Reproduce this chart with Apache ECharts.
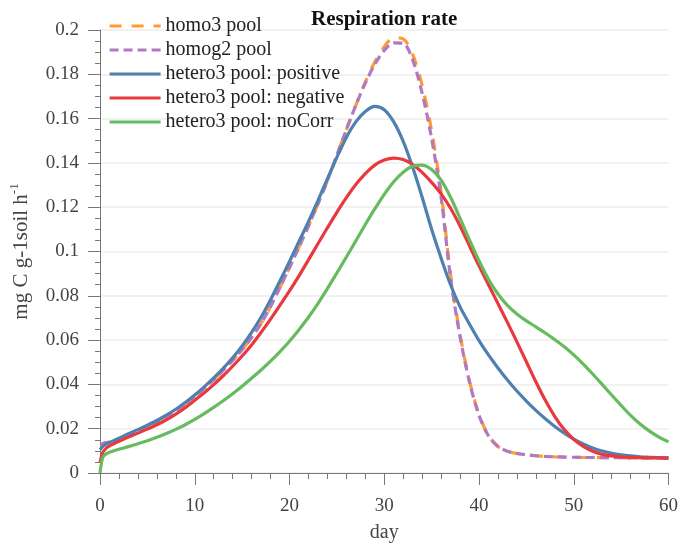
<!DOCTYPE html>
<html>
<head>
<meta charset="utf-8">
<script src="https://cdn.jsdelivr.net/npm/echarts@6/dist/echarts.min.js"></script>
<style>html,body{margin:0;padding:0;background:#fff}#c{width:681px;height:548px}</style>
</head>
<body>
<div id="c"></div>
<script>
var days = [0,0.25,0.5,1,2,3,4,5,6,7,8,9,10,11,12,13,14,15,16,17,18,19,20,21,22,23,24,25,26,27,28,29,30,31,32,33,34,35,36,37,38,39,40,41,42,43,44,45,46,47,48,49,50,51,52,53,54,55,56,57,58,59,60];

var homo3 = [0.0125,0.013,0.0135,0.014,0.0155,0.0172,0.019,0.021,0.0232,0.0256,0.0283,0.0313,0.0346,0.0382,0.0421,0.0463,0.0508,0.0557,0.0612,0.0675,0.0752,0.0838,0.0928,0.102,0.1115,0.1215,0.132,0.1435,0.155,0.166,0.1765,0.1855,0.1925,0.1965,0.196,0.189,0.175,0.1545,0.127,0.0895,0.0625,0.0415,0.0265,0.0168,0.012,0.0098,0.0088,0.0082,0.0078,0.0075,0.0073,0.0072,0.0071,0.007,0.007,0.0069,0.0069,0.0069,0.0068,0.0068,0.0068,0.0068,0.0068];

var homog2 = [0.013,0.0132,0.0136,0.014,0.0155,0.0172,0.019,0.021,0.0232,0.0256,0.0283,0.0313,0.0346,0.0382,0.0421,0.0463,0.0508,0.0557,0.0612,0.0675,0.0752,0.0838,0.0928,0.102,0.1115,0.1215,0.132,0.1435,0.155,0.166,0.176,0.1845,0.1908,0.1942,0.194,0.1865,0.1715,0.151,0.1245,0.088,0.0615,0.041,0.026,0.0168,0.012,0.0098,0.0088,0.0082,0.0078,0.0075,0.0073,0.0072,0.0071,0.007,0.007,0.0069,0.0069,0.0069,0.0068,0.0068,0.0068,0.0068,0.0068];

var positive = [0.0105,0.0118,0.0127,0.0137,0.0157,0.0177,0.0196,0.0216,0.0237,0.0261,0.0288,0.0318,0.0352,0.0389,0.0429,0.0472,0.052,0.0574,0.0635,0.0703,0.0782,0.0868,0.0955,0.1045,0.1135,0.123,0.1328,0.1425,0.1515,0.1585,0.1632,0.1655,0.164,0.1585,0.1497,0.138,0.1245,0.11,0.097,0.085,0.075,0.0672,0.0598,0.0533,0.0474,0.042,0.037,0.0325,0.0283,0.0245,0.021,0.018,0.0153,0.0131,0.0113,0.0099,0.0089,0.0082,0.0077,0.0073,0.0071,0.0069,0.0068];

var negative = [0.0045,0.0088,0.0105,0.0122,0.0143,0.0162,0.018,0.0198,0.0218,0.024,0.0266,0.0295,0.0328,0.0362,0.0399,0.0439,0.0482,0.0528,0.0578,0.0635,0.0695,0.0758,0.0822,0.089,0.0962,0.1035,0.1107,0.1177,0.1243,0.1302,0.1352,0.139,0.1413,0.1422,0.1415,0.1393,0.1357,0.1312,0.126,0.1195,0.1115,0.1025,0.0935,0.085,0.0765,0.068,0.0592,0.0502,0.0412,0.0328,0.0255,0.0196,0.0152,0.012,0.0098,0.0084,0.0077,0.0073,0.0071,0.0069,0.0068,0.0068,0.0067];

var noCorr = [0,0.0065,0.0082,0.0094,0.0107,0.0119,0.0132,0.0146,0.0161,0.0178,0.0197,0.0218,0.0242,0.0268,0.0296,0.0326,0.0358,0.0392,0.0428,0.0465,0.0505,0.0548,0.0595,0.0647,0.0703,0.0765,0.0832,0.0903,0.0975,0.1048,0.1122,0.1192,0.1258,0.1315,0.1358,0.1385,0.139,0.137,0.1322,0.1245,0.115,0.1052,0.0958,0.0875,0.0808,0.0757,0.0718,0.0687,0.066,0.0632,0.0602,0.057,0.0533,0.0492,0.0447,0.04,0.0352,0.0305,0.026,0.0221,0.0189,0.0162,0.0141];

var seriesNames = ['homo3 pool','homog2 pool','hetero3 pool: positive','hetero3 pool: negative','hetero3 pool: noCorr'];
var xTicks = [0,10,20,30,40,50,60];
var yTicks = [0,0.02,0.04,0.06,0.08,0.1,0.12,0.14,0.16,0.18,0.2];

function pairs(vals){ return days.map(function(d,i){ return [d, vals[i]]; }); }

var FONT = 'Liberation Serif';
var chart = echarts.init(document.getElementById('c'), null, {renderer:'canvas'});

function mk(name, vals, color, type, width, z){
  return {
    name: name, type: 'line', data: pairs(vals), symbol: 'none', showSymbol: false,
    smooth: 0.3, z: z,
    lineStyle: {color: color, width: width, type: type},
    itemStyle: {color: color}
  };
}

chart.setOption({
  animation: false,
  backgroundColor: '#ffffff',
  title: {
    text: 'Respiration rate', left: 306, top: 4,
    textStyle: {fontFamily: FONT, fontSize: 21, fontWeight: 'bold', color: '#111'}
  },
  legend: {
    orient: 'vertical', left: 103, top: 11,
    itemWidth: 51, itemHeight: 14, itemGap: 4,
    itemStyle: {opacity: 0},
    lineStyle: {width: 3.2},
    textStyle: {fontFamily: FONT, fontSize: 20, lineHeight: 20, color: '#222'},
    data: seriesNames
  },
  grid: {left: 95, right: 11, top: 30, bottom: 68, containLabel: false},
  xAxis: {
    type: 'value', min: 0, max: 60, interval: 10,
    name: 'day', nameLocation: 'middle', nameGap: 50,
    nameTextStyle: {fontFamily: FONT, fontSize: 20, color: '#444'},
    axisLine: {show: true, lineStyle: {color: '#777', width: 1}},
    axisTick: {show: true, inside: false, length: 12, lineStyle: {color: '#777'}},
    minorTick: {show: true, splitNumber: 5, length: 6, lineStyle: {color: '#777'}},
    axisLabel: {fontFamily: FONT, fontSize: 19, color: '#444', margin: 24,
      formatter: function(v){ return xTicks.indexOf(v) >= 0 ? String(v) : ''; }},
    splitLine: {show: false}
  },
  yAxis: {
    type: 'value', min: 0, max: 0.2, interval: 0.02,
    name: '{a|mg C g-1soil h}{b|-1}', nameLocation: 'middle', nameGap: 68, nameRotate: 90,
    nameTextStyle: {
      fontFamily: FONT, color: '#444',
      rich: {
        a: {fontFamily: FONT, fontSize: 21, color: '#444', lineHeight: 24, verticalAlign: 'bottom'},
        b: {fontFamily: FONT, fontSize: 13, color: '#444', lineHeight: 24, verticalAlign: 'top', padding: [0,0,8,0]}
      }
    },
    axisLine: {show: true, lineStyle: {color: '#777', width: 1}},
    axisTick: {show: true, inside: false, length: 12, lineStyle: {color: '#777'}},
    minorTick: {show: true, splitNumber: 4, length: 5, lineStyle: {color: '#777'}},
    axisLabel: {fontFamily: FONT, fontSize: 19, color: '#444', margin: 21,
      formatter: function(v){
        for (var i=0;i<yTicks.length;i++){ if (Math.abs(yTicks[i]-v) < 1e-9) return String(yTicks[i]); }
        return '';
      }},
    splitLine: {show: true, lineStyle: {color: '#ececec', width: 1.5}}
  },
  series: [
    mk(seriesNames[0], homo3, '#FF9B30', [12,10], 3.2, 2),
    mk(seriesNames[1], homog2, '#B079C3', [9,5], 3.2, 3),
    mk(seriesNames[2], positive, '#4E80B0', 'solid', 3.2, 4),
    mk(seriesNames[3], negative, '#E8393F', 'solid', 3.2, 5),
    mk(seriesNames[4], noCorr, '#66BB5E', 'solid', 3.2, 6)
  ]
});
</script>
</body>
</html>
